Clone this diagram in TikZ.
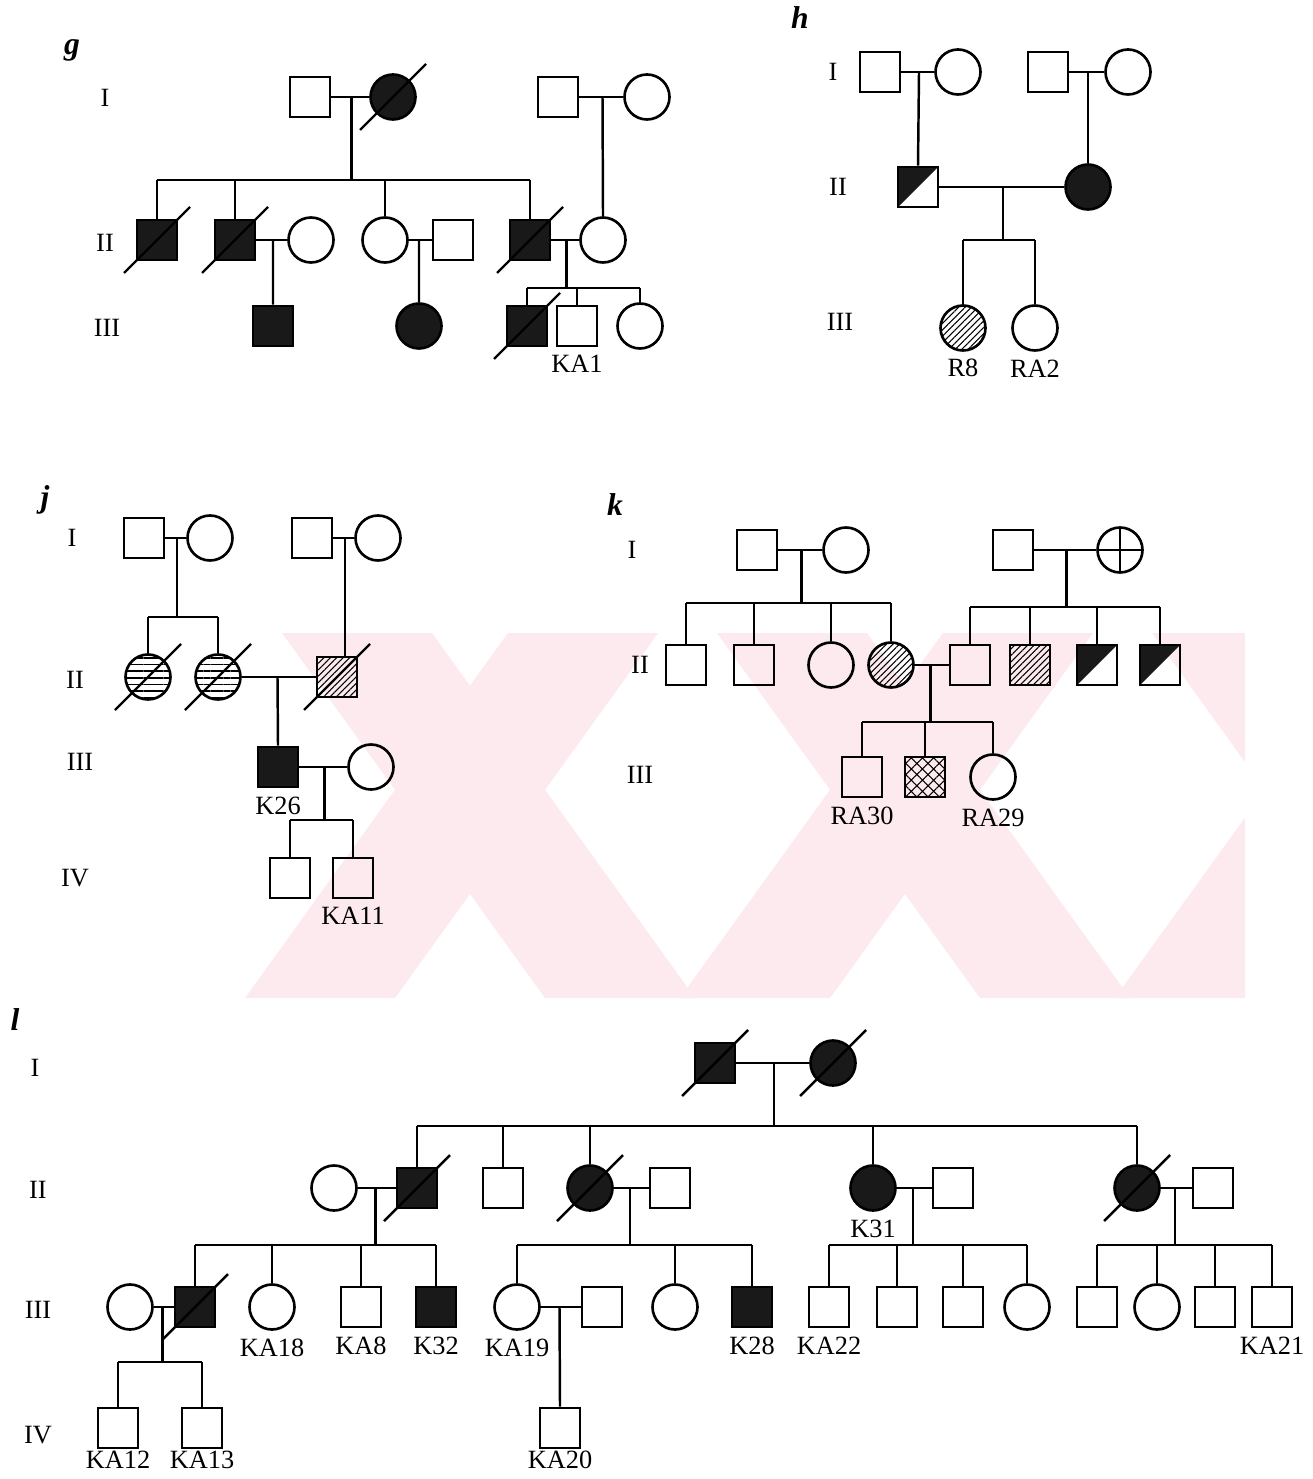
\documentclass[tikz,border=0pt]{standalone}
\usepackage{fontspec}
\setmainfont{Liberation Serif}
\usetikzlibrary{positioning, calc, patterns.meta}
\definecolor{wmpink}{RGB}{253,234,238}
\tikzset{
  ind/.style={draw, line width=1.5pt, inner sep=0pt},
  male/.style={ind, rectangle, minimum size=0.8cm},
  female/.style={ind, circle, minimum size=0.9cm},
  aff/.style={fill=black!90},
  hatch/.style={pattern={Lines[angle=45,distance=2.6pt,line width=0.6pt]}},
  hlines/.style={pattern={Lines[angle=0,distance=3.8pt,line width=0.9pt]}},
  xhatch/.style={pattern={Hatch[angle=45,distance=4.5pt,line width=0.6pt]}},
  carrier/.style={path picture={\fill[black!90] (path picture bounding box.north west) -- (path picture bounding box.north east) -- (path picture bounding box.south west) -- cycle;}},
  crossed/.style={path picture={\draw[line width=1.3pt] (path picture bounding box.north) -- (path picture bounding box.south) (path picture bounding box.west) -- (path picture bounding box.east);}},
  tag/.style={font=\fontsize{15}{17}\selectfont, inner sep=1pt},
  gen/.style={font=\fontsize{15}{17}\selectfont},
  panel/.style={font=\fontsize{18}{20}\selectfont\bfseries\itshape},
  line/.style={line width=1.4pt},
}
% slash for a deceased individual
\newcommand{\deceased}[1]{\draw[line] ([shift={(-33,33)}]#1.center) -- ([shift={(33,-33)}]#1.center);}

\begin{document}
\begin{tikzpicture}[x=0.02cm, y=-0.02cm, every label/.style={tag}, label distance=3.5pt]
\useasboundingbox[fill=white] (0,0) rectangle (1312,1479);

% watermark
\begin{scope}
\clip (240,633) rectangle (1245,998);
\foreach \a in {470,905,1340}{
  \fill[wmpink] ({\a-188},633) -- ({\a-38},633) -- ({\a+225},998) -- ({\a+75},998) -- cycle;
  \fill[wmpink] ({\a+38},633) -- ({\a+188},633) -- ({\a-75},998) -- ({\a-225},998) -- cycle;
}
\end{scope}

%%%% pedigree g
\node[panel] (g) at (72,50) {g};
\node[gen] (gI) at (105,98) {I};
\node[gen] (gII) at (105,243) {II};
\node[gen] (gIII) at (107,328) {III};

\node[male] (g1) at (310,97) {};
\node[female,aff] (g2) at (393,97) {};
\node[male] (g3) at (558,97) {};
\node[female] (g4) at (647,97) {};
\node[male,aff] (g5) at (157,240) {};
\node[male,aff] (g6) at (235,240) {};
\node[female] (g7) at (311,240) {};
\node[female] (g8) at (385,240) {};
\node[male] (g9) at (453,240) {};
\node[male,aff] (g10) at (530,240) {};
\node[female] (g11) at (603,240) {};
\node[male,aff] (g12) at (273,326) {};
\node[female,aff] (g13) at (419,326) {};
\node[male,aff] (g14) at (527,326) {};
\node[male,label=below:KA1] (g15) at (577,326) {};
\node[female] (g16) at (640,326) {};

\draw[line] (g1) -- (g2);
\coordinate (gm1) at ($(g1)!0.5!(g2)$);
\coordinate (gb1) at (0,180);
\draw[line] (gm1) -- (gm1 |- gb1);
\draw[line] (g5.north |- gb1) -- (g10.north |- gb1);
\foreach \c in {g5,g6,g8,g10}
  \draw[line] (\c.north |- gb1) -- (\c.north);
\draw[line] (g3) -- (g4);
\draw[line] ($(g3)!0.5!(g4)$) -- (g11.north);
\draw[line] (g6) -- (g7);
\draw[line] ($(g6)!0.5!(g7)$) -- (g12.north);
\draw[line] (g8) -- (g9);
\draw[line] ($(g8)!0.5!(g9)$) -- (g13.north);
\draw[line] (g10) -- (g11);
\coordinate (gm2) at ($(g10)!0.5!(g11)$);
\coordinate (gb2) at (0,288);
\draw[line] (gm2) -- (gm2 |- gb2);
\draw[line] (g14.north |- gb2) -- (g16.north |- gb2);
\foreach \c in {g14,g15,g16}
  \draw[line] (\c.north |- gb2) -- (\c.north);
\foreach \c in {g2,g5,g6,g10,g14}{\deceased{\c}}

%%%% pedigree h
\node[panel] (h) at (800,18) {h};
\node[gen] (hI) at (833,72) {I};
\node[gen] (hII) at (838,187) {II};
\node[gen] (hIII) at (840,322) {III};

\node[male] (h1) at (880,72) {};
\node[female] (h2) at (958,72) {};
\node[male] (h3) at (1048,72) {};
\node[female] (h4) at (1128,72) {};
\node[male,carrier] (h5) at (918,187) {};
\node[female,aff] (h6) at (1088,187) {};
\node[female,hatch,label=below:R8] (h7) at (963,328) {};
\node[female,label=below:RA2] (h8) at (1035,328) {};

\draw[line] (h1) -- (h2);
\draw[line] ($(h1)!0.5!(h2)$) -- (h5.north);
\draw[line] (h3) -- (h4);
\draw[line] ($(h3)!0.5!(h4)$) -- (h6.north);
\draw[line] (h5) -- (h6);
\coordinate (hm1) at ($(h5)!0.5!(h6)$);
\coordinate (hb1) at (0,240);
\draw[line] (hm1) -- (hm1 |- hb1);
\draw[line] (h7.north |- hb1) -- (h8.north |- hb1);
\foreach \c in {h7,h8}
  \draw[line] (\c.north |- hb1) -- (\c.north);

%%%% pedigree j
\node[panel] (j) at (45,500) {j};
\node[gen] (jI) at (72,538) {I};
\node[gen] (jII) at (75,680) {II};
\node[gen] (jIII) at (80,762) {III};
\node[gen] (jIV) at (75,878) {IV};

\node[male] (j1) at (144,538) {};
\node[female] (j2) at (210,538) {};
\node[male] (j3) at (312,538) {};
\node[female] (j4) at (378,538) {};
\node[female,hlines] (j5) at (148,677) {};
\node[female,hlines] (j6) at (218,677) {};
\node[male,hatch] (j7) at (337,677) {};
\node[male,aff,label=below:K26] (j8) at (278,767) {};
\node[female] (j9) at (371,767) {};
\node[male] (j10) at (290,878) {};
\node[male,label=below:KA11] (j11) at (353,878) {};

\draw[line] (j1) -- (j2);
\coordinate (jm1) at ($(j1)!0.5!(j2)$);
\coordinate (jb1) at (0,617);
\draw[line] (jm1) -- (jm1 |- jb1);
\draw[line] (j5.north |- jb1) -- (j6.north |- jb1);
\foreach \c in {j5,j6}
  \draw[line] (\c.north |- jb1) -- (\c.north);
\draw[line] (j3) -- (j4);
\coordinate (jm2) at ($(j3)!0.5!(j4)$);
\draw[line] (jm2) -- (jm2 |- j7.north);
\draw[line] (j6) -- (j7);
\draw[line] ($(j6)!0.5!(j7)$) -- (j8.north);
\draw[line] (j8) -- (j9);
\coordinate (jm3) at ($(j8)!0.5!(j9)$);
\coordinate (jb2) at (0,820);
\draw[line] (jm3) -- (jm3 |- jb2);
\draw[line] (j10.north |- jb2) -- (j11.north |- jb2);
\foreach \c in {j10,j11}
  \draw[line] (\c.north |- jb2) -- (\c.north);
\foreach \c in {j5,j6,j7}{\deceased{\c}}

%%%% pedigree k
\node[panel] (k) at (615,505) {k};
\node[gen] (kI) at (632,550) {I};
\node[gen] (kII) at (640,665) {II};
\node[gen] (kIII) at (640,775) {III};

\node[male] (k1) at (757,550) {};
\node[female] (k2) at (846,550) {};
\node[male] (k3) at (1013,550) {};
\node[female,crossed] (k4) at (1120,550) {};
\node[male] (k5) at (686,665) {};
\node[male] (k6) at (754,665) {};
\node[female] (k7) at (831,665) {};
\node[female,hatch] (k8) at (891,665) {};
\node[male] (k9) at (970,665) {};
\node[male,hatch] (k10) at (1030,665) {};
\node[male,carrier] (k11) at (1097,665) {};
\node[male,carrier] (k12) at (1160,665) {};
\node[male,label=below:RA30] (k13) at (862,777) {};
\node[male,xhatch] (k14) at (925,777) {};
\node[female,label=below:RA29] (k15) at (993,777) {};

\draw[line] (k1) -- (k2);
\coordinate (km1) at ($(k1)!0.5!(k2)$);
\coordinate (kb1) at (0,603);
\draw[line] (km1) -- (km1 |- kb1);
\draw[line] (k5.north |- kb1) -- (k8.north |- kb1);
\foreach \c in {k5,k6,k7,k8}
  \draw[line] (\c.north |- kb1) -- (\c.north);
\draw[line] (k3) -- (k4);
\coordinate (km2) at ($(k3)!0.5!(k4)$);
\coordinate (kb2) at (0,607);
\draw[line] (km2) -- (km2 |- kb2);
\draw[line] (k9.north |- kb2) -- (k12.north |- kb2);
\foreach \c in {k9,k10,k11,k12}
  \draw[line] (\c.north |- kb2) -- (\c.north);
\draw[line] (k8) -- (k9);
\coordinate (km3) at ($(k8)!0.5!(k9)$);
\coordinate (kb3) at (0,722);
\draw[line] (km3) -- (km3 |- kb3);
\draw[line] (k13.north |- kb3) -- (k15.north |- kb3);
\foreach \c in {k13,k14,k15}
  \draw[line] (\c.north |- kb3) -- (\c.north);

%%%% pedigree l
\node[panel] (l) at (15,1020) {l};
\node[gen] (lI) at (35,1068) {I};
\node[gen] (lII) at (38,1190) {II};
\node[gen] (lIII) at (38,1310) {III};
\node[gen] (lIV) at (38,1435) {IV};

\node[male,aff] (l1) at (715,1063) {};
\node[female,aff] (l2) at (833,1063) {};

\node[female] (l3) at (334,1188) {};
\node[male,aff] (l4) at (417,1188) {};
\node[male] (l5) at (503,1188) {};
\node[female,aff] (l6) at (590,1188) {};
\node[male] (l7) at (670,1188) {};
\node[female,aff,label=below:K31] (l8) at (873,1188) {};
\node[male] (l9) at (953,1188) {};
\node[female,aff] (l10) at (1137,1188) {};
\node[male] (l11) at (1213,1188) {};

\node[female] (l12) at (130,1307) {};
\node[male,aff] (l13) at (195,1307) {};
\node[female,label=below:KA18] (l14) at (272,1307) {};
\node[male,label=below:KA8] (l15) at (361,1307) {};
\node[male,aff,label=below:K32] (l16) at (436,1307) {};
\node[female,label=below:KA19] (l17) at (517,1307) {};
\node[male] (l18) at (602,1307) {};
\node[female] (l19) at (675,1307) {};
\node[male,aff,label=below:K28] (l20) at (752,1307) {};
\node[male,label=below:KA22] (l21) at (829,1307) {};
\node[male] (l22) at (897,1307) {};
\node[male] (l23) at (963,1307) {};
\node[female] (l24) at (1027,1307) {};
\node[male] (l25) at (1097,1307) {};
\node[female] (l26) at (1157,1307) {};
\node[male] (l27) at (1215,1307) {};
\node[male,label=below:KA21] (l28) at (1272,1307) {};

\node[male,label={[label distance=0pt]below:KA12}] (l29) at (118,1428) {};
\node[male,label={[label distance=0pt]below:KA13}] (l30) at (202,1428) {};
\node[male,label={[label distance=0pt]below:KA20}] (l31) at (560,1428) {};

\draw[line] (l1) -- (l2);
\coordinate (lm1) at ($(l1)!0.5!(l2)$);
\coordinate (lb1) at (0,1126);
\draw[line] (lm1) -- (lm1 |- lb1);
\draw[line] (l4.north |- lb1) -- (l10.north |- lb1);
\foreach \c in {l4,l5,l6,l8,l10}
  \draw[line] (\c.north |- lb1) -- (\c.north);
\coordinate (lb2) at (0,1245);
\draw[line] (l3) -- (l4);
\coordinate (lm2) at ($(l3)!0.5!(l4)$);
\draw[line] (lm2) -- (lm2 |- lb2);
\draw[line] (l13.north |- lb2) -- (l16.north |- lb2);
\foreach \c in {l13,l14,l15,l16}
  \draw[line] (\c.north |- lb2) -- (\c.north);
\draw[line] (l6) -- (l7);
\coordinate (lm3) at ($(l6)!0.5!(l7)$);
\draw[line] (lm3) -- (lm3 |- lb2);
\draw[line] (l17.north |- lb2) -- (l20.north |- lb2);
\foreach \c in {l17,l19,l20}
  \draw[line] (\c.north |- lb2) -- (\c.north);
\draw[line] (l8) -- (l9);
\coordinate (lm4) at ($(l8)!0.5!(l9)$);
\draw[line] (lm4) -- (lm4 |- lb2);
\draw[line] (l21.north |- lb2) -- (l24.north |- lb2);
\foreach \c in {l21,l22,l23,l24}
  \draw[line] (\c.north |- lb2) -- (\c.north);
\draw[line] (l10) -- (l11);
\coordinate (lm5) at ($(l10)!0.5!(l11)$);
\draw[line] (lm5) -- (lm5 |- lb2);
\draw[line] (l25.north |- lb2) -- (l28.north |- lb2);
\foreach \c in {l25,l26,l27,l28}
  \draw[line] (\c.north |- lb2) -- (\c.north);
\draw[line] (l12) -- (l13);
\coordinate (lm6) at ($(l12)!0.5!(l13)$);
\coordinate (lb3) at (0,1362);
\draw[line] (lm6) -- (lm6 |- lb3);
\draw[line] (l29.north |- lb3) -- (l30.north |- lb3);
\foreach \c in {l29,l30}
  \draw[line] (\c.north |- lb3) -- (\c.north);
\draw[line] (l17) -- (l18);
\draw[line] ($(l17)!0.5!(l18)$) -- (l31.north);
\foreach \c in {l1,l2,l4,l6,l10,l13}{\deceased{\c}}
\end{tikzpicture}
\end{document}
